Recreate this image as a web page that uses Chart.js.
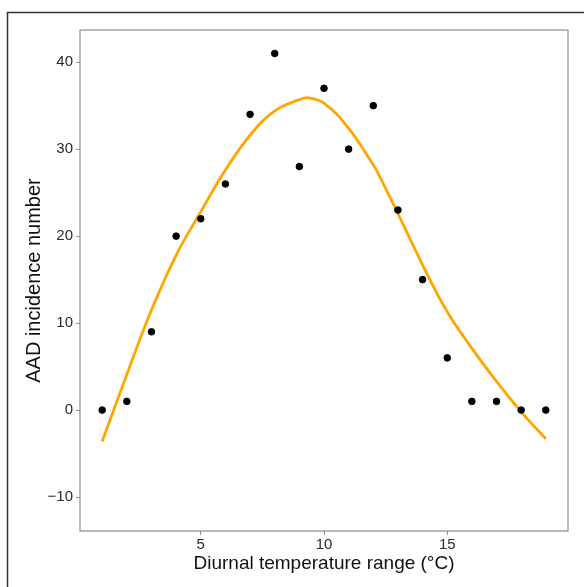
<!DOCTYPE html>
<html>
<head>
<meta charset="utf-8">
<script src="https://cdn.jsdelivr.net/npm/chart.js@4/dist/chart.umd.min.js"></script>
<style>
  html, body { margin: 0; padding: 0; background: #fff; }
  #wrap { width: 584px; height: 587px; position: relative; }
</style>
</head>
<body>
<div id="wrap"><canvas id="c" width="584" height="587"></canvas></div>
<script>
// observed counts
const dtr = [1, 2, 3, 4, 5, 6, 7, 8, 9, 10, 11, 12, 13, 14, 15, 16, 17, 18, 19];
const cases = [0, 1, 9, 20, 22, 26, 34, 41, 28, 37, 30, 35, 23, 15, 6, 1, 1, 0, 0];

// fitted curve
const fitX = [1, 2, 3, 4, 5, 6, 7, 8, 9, 9.35, 10, 11, 12, 12.2, 13, 14, 15, 16, 17, 18, 19];
const fitY = [-3.6, 4.1, 11.5, 17.8, 22.8, 27.6, 31.6, 34.4, 35.7, 35.9, 35.3, 32.4, 28.2, 27.2, 22.6, 16.7, 11.3, 7.1, 3.3, -0.2, -3.3];

const xTicks = [5, 10, 15];
const yTicks = [-10, 0, 10, 20, 30, 40];

const frame = {
  id: 'frame',
  beforeDraw(chart) {
    const ctx = chart.ctx;
    ctx.save();
    ctx.strokeStyle = '#333';
    ctx.lineWidth = 1.5;
    ctx.strokeRect(7.5, 12.5, 640, 640);
    ctx.restore();
  },
  afterDatasetsDraw(chart) {
    const a = chart.chartArea;
    const ctx = chart.ctx;
    ctx.save();
    ctx.strokeStyle = '#8c8c8c';
    ctx.lineWidth = 1.2;
    ctx.strokeRect(a.left, a.top, a.right - a.left, a.bottom - a.top);
    ctx.restore();
  }
};

new Chart(document.getElementById('c'), {
  type: 'scatter',
  data: {
    datasets: [
      {
        label: 'AAD cases',
        data: dtr.map((x, i) => ({ x: x, y: cases[i] })),
        backgroundColor: '#000',
        borderColor: '#000',
        pointRadius: 3.3,
        pointHoverRadius: 3.3,
        order: 1
      },
      {
        label: 'Fit',
        type: 'line',
        data: fitX.map((x, i) => ({ x: x, y: fitY[i] })),
        borderColor: '#FFA500',
        borderWidth: 2.8,
        pointRadius: 0,
        tension: 0.4,
        fill: false,
        order: 2
      }
    ]
  },
  options: {
    responsive: false,
    animation: false,
    layout: { padding: { left: 0, top: 30, right: 16, bottom: 0 } },
    plugins: { legend: { display: false }, tooltip: { enabled: false } },
    scales: {
      x: {
        type: 'linear',
        min: 0.1,
        max: 19.9,
        afterBuildTicks: s => { s.ticks = xTicks.map(v => ({ value: v })); },
        afterFit: s => { s.height = 56; },
        grid: { drawOnChartArea: false, tickLength: 4, color: '#8c8c8c' },
        border: { display: false },
        ticks: { color: '#2a2a2a', padding: 1, font: { family: 'Liberation Sans', size: 15 } },
        title: {
          display: true,
          text: 'Diurnal temperature range (°C)',
          color: '#111',
          font: { family: 'Liberation Sans', size: 19 },
          padding: { top: 0, bottom: 12 }
        }
      },
      y: {
        type: 'linear',
        min: -13.9,
        max: 43.7,
        afterBuildTicks: s => { s.ticks = yTicks.map(v => ({ value: v })); },
        afterFit: s => { s.width = 80; },
        grid: { drawOnChartArea: false, tickLength: 4, color: '#8c8c8c' },
        border: { display: false },
        ticks: {
          color: '#2a2a2a',
          padding: 3,
          font: { family: 'Liberation Sans', size: 15 },
          callback: v => String(v).replace('-', '\u2212')
        },
        title: {
          display: true,
          text: 'AAD incidence number',
          color: '#111',
          font: { family: 'Liberation Sans', size: 20 },
          padding: { top: 22, bottom: 0 }
        }
      }
    }
  },
  plugins: [frame]
});
</script>
</body>
</html>
